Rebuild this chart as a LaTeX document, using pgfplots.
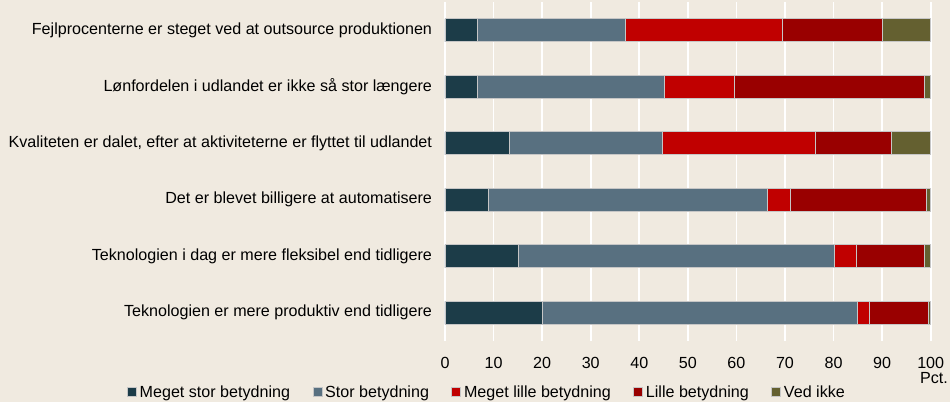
\documentclass[border=0pt]{standalone}
\usepackage{fontspec}
\setmainfont{Liberation Sans}
\usepackage{pgfplots}
\pgfplotsset{compat=1.18}

\definecolor{bg}{RGB}{240,234,224}
\definecolor{msb}{RGB}{28,60,72}
\definecolor{sb}{RGB}{88,112,128}
\definecolor{mlb}{RGB}{192,0,0}
\definecolor{lb}{RGB}{153,0,0}
\definecolor{vi}{RGB}{100,96,48}

\begin{document}
\begin{tikzpicture}[font=\fontsize{16.1bp}{19bp}\selectfont]
\fill[bg] (-445bp,-61bp) rectangle (505bp,341bp);
\useasboundingbox (-445bp,-61bp) rectangle (505bp,341bp);
\begin{axis}[
  at={(0,0)}, anchor=south west,
  scale only axis, width=485.7bp, height=339bp,
  xbar stacked, bar width=23bp, clip=false,
  xmin=0, xmax=100, ymin=-0.5, ymax=5.5, y dir=reverse,
  xtick={0,10,...,100}, ytick={0,...,5},
  yticklabels={
    Fejlprocenterne er steget ved at outsource produktionen,
    Lønfordelen i udlandet er ikke så stor længere,
    {Kvaliteten er dalet, efter at aktiviteterne er flyttet til udlandet},
    Det er blevet billigere at automatisere,
    Teknologien i dag er mere fleksibel end tidligere,
    Teknologien er mere produktiv end tidligere},
  axis line style={draw=none}, major tick length=0pt,
  xmajorgrids, grid style={white, line width=1.8bp},
  /pgf/number format/assume math mode=true,
  xticklabel style={yshift=-13bp},
  yticklabel style={xshift=-9.5bp},
  legend columns=5,
  legend style={at={(-0.6545,-0.1504)}, anchor=west, draw=none, fill=none,
    inner sep=0pt, outer sep=0pt, nodes={inner sep=0pt},
    /tikz/every odd column/.append style={column sep=3bp},
    /tikz/every even column/.append style={column sep=22.5bp}},
  legend image code/.code={\fill[#1] (0bp,-4.5bp) rectangle (9bp,4.5bp);},
  every axis plot/.append style={draw=white!55!gray, line width=0.6bp},
]
\addplot[fill=msb] coordinates {(6.7,0) (6.7,1) (13.2,2) (8.9,3) (15.1,4) (20.0,5)};
\addlegendentry{Meget stor betydning}
\addplot[fill=sb] coordinates {(30.5,0) (38.5,1) (31.5,2) (57.5,3) (65.0,4) (64.8,5)};
\addlegendentry{Stor betydning}
\addplot[fill=mlb] coordinates {(32.3,0) (14.4,1) (31.6,2) (4.6,3) (4.6,4) (2.6,5)};
\addlegendentry{Meget lille betydning}
\addplot[fill=lb] coordinates {(20.5,0) (39.0,1) (15.5,2) (28.0,3) (14.0,4) (12.1,5)};
\addlegendentry{Lille betydning}
\addplot[fill=vi] coordinates {(10.0,0) (1.4,1) (8.2,2) (1.0,3) (1.3,4) (0.5,5)};
\addlegendentry{Ved ikke}
\node[anchor=base east, inner sep=0pt] at ([xshift=17.3bp,yshift=-42bp]rel axis cs:1,0) {Pct.};
\end{axis}
\end{tikzpicture}
\end{document}
